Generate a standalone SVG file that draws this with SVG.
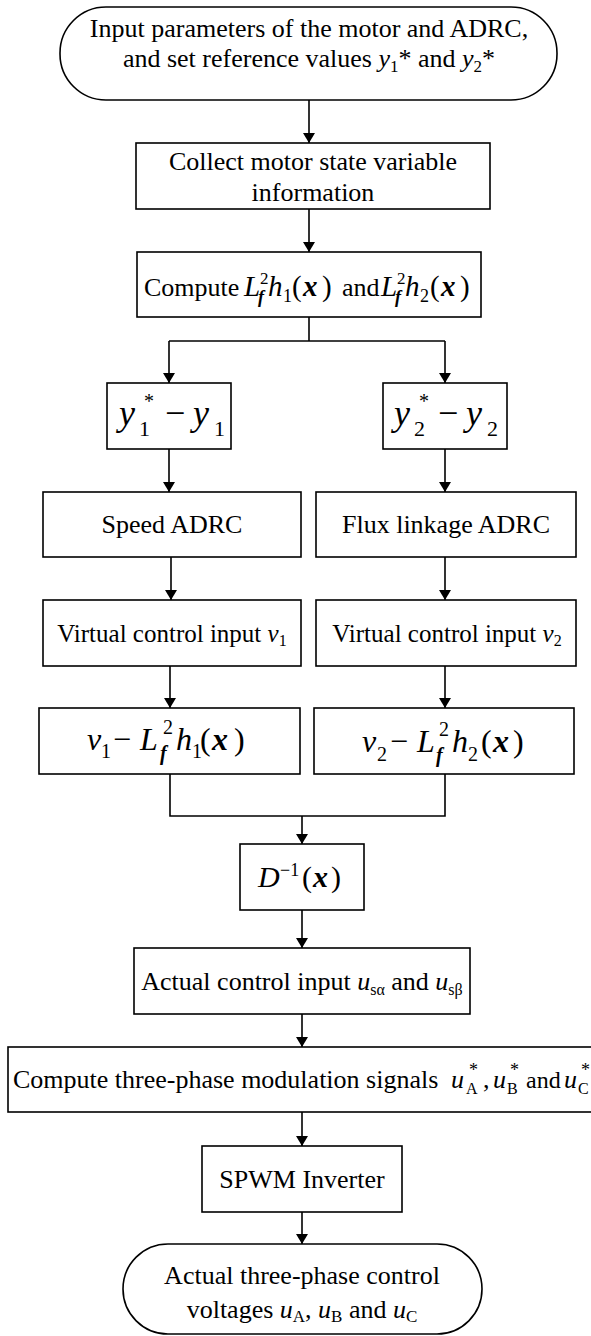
<svg xmlns="http://www.w3.org/2000/svg" width="591" height="1336" viewBox="0 0 591 1336">
<style>
.bx{fill:#fff;stroke:#000;stroke-width:1.6}
.t{font-family:"Liberation Serif","Times New Roman",serif;fill:#000}
.i{font-style:italic}
.b{font-weight:bold}
.c{stroke:#000;stroke-width:1.6;fill:none}
</style>
<defs>
<marker id="ah" viewBox="0 0 10 12" refX="10" refY="6" markerWidth="10" markerHeight="12" orient="auto" markerUnits="userSpaceOnUse">
<path d="M0,0 L10,6 L0,12 z" fill="#000"/>
</marker>
</defs>
<rect width="591" height="1336" fill="#fff"/>
<g id="connectors">
<line class="c" x1="309" y1="100" x2="309" y2="143" marker-end="url(#ah)"/>
<line class="c" x1="309" y1="209" x2="309" y2="252" marker-end="url(#ah)"/>
<polyline class="c" points="309,317 309,341"/>
<polyline class="c" points="169,341 445,341"/>
<line class="c" x1="169" y1="341" x2="169" y2="383" marker-end="url(#ah)"/>
<line class="c" x1="445" y1="341" x2="445" y2="383" marker-end="url(#ah)"/>
<line class="c" x1="169" y1="449" x2="169" y2="492" marker-end="url(#ah)"/>
<line class="c" x1="445" y1="449" x2="445" y2="492" marker-end="url(#ah)"/>
<line class="c" x1="171" y1="557" x2="171" y2="600" marker-end="url(#ah)"/>
<line class="c" x1="445" y1="557" x2="445" y2="600" marker-end="url(#ah)"/>
<line class="c" x1="170" y1="666" x2="170" y2="708" marker-end="url(#ah)"/>
<line class="c" x1="445" y1="666" x2="445" y2="708" marker-end="url(#ah)"/>
<polyline class="c" points="170,774 170,816 445,816 445,774"/>
<line class="c" x1="302" y1="816" x2="302" y2="844" marker-end="url(#ah)"/>
<line class="c" x1="302" y1="910" x2="302" y2="948" marker-end="url(#ah)"/>
<line class="c" x1="302" y1="1014" x2="302" y2="1047" marker-end="url(#ah)"/>
<line class="c" x1="302" y1="1112" x2="302" y2="1146" marker-end="url(#ah)"/>
<line class="c" x1="302" y1="1212" x2="302" y2="1244" marker-end="url(#ah)"/>
</g>
<g id="start">
<rect class="bx" x="60" y="7" width="497" height="93" rx="46" ry="46"/>
<text class="t" font-size="26" x="309" y="37" text-anchor="middle">Input parameters of the motor and ADRC,</text>
<text class="t" font-size="26" x="309" y="67" text-anchor="middle">and set reference values <tspan class="i">y</tspan><tspan font-size="17" dy="5">1</tspan><tspan dy="-5">* and </tspan><tspan class="i">y</tspan><tspan font-size="17" dy="5">2</tspan><tspan dy="-5">*</tspan></text>
</g>
<g id="collect">
<rect class="bx" x="136" y="143" width="354" height="66"/>
<text class="t" font-size="26" x="313" y="170" text-anchor="middle">Collect motor state variable</text>
<text class="t" font-size="26" x="313" y="201" text-anchor="middle">information</text>
</g>
<g id="computeL">
<rect class="bx" x="137" y="252" width="344" height="65"/>
<text class="t" font-size="26" y="296"><tspan x="144">Compute</tspan><tspan x="244" class="i" font-size="29">L</tspan><tspan x="260" y="284" font-size="17">2</tspan><tspan x="258" y="303" font-size="18" class="i b">f</tspan><tspan x="268" y="296" class="i" font-size="29">h</tspan><tspan x="283" y="302" font-size="18">1</tspan><tspan x="292" y="296" font-size="29">(</tspan><tspan x="303" class="i b" font-size="29">x</tspan><tspan x="322" font-size="29">)</tspan><tspan x="342">and</tspan><tspan x="381" class="i" font-size="29">L</tspan><tspan x="397" y="284" font-size="17">2</tspan><tspan x="395" y="303" font-size="18" class="i b">f</tspan><tspan x="405" y="296" class="i" font-size="29">h</tspan><tspan x="420" y="302" font-size="18">2</tspan><tspan x="430" y="296" font-size="29">(</tspan><tspan x="441" class="i b" font-size="29">x</tspan><tspan x="460" font-size="29">)</tspan></text>
</g>
<g id="err1">
<rect class="bx" x="107" y="383" width="124" height="66"/>
<text class="t" font-size="36" y="425"><tspan x="119" class="i">y</tspan><tspan x="144" y="408" font-size="20">*</tspan><tspan x="139" y="436" font-size="22">1</tspan><tspan x="165" y="425">−</tspan><tspan x="193" class="i">y</tspan><tspan x="214" y="436" font-size="22">1</tspan></text>
</g>
<g id="err2">
<rect class="bx" x="383" y="383" width="124" height="66"/>
<text class="t" font-size="36" y="425"><tspan x="394" class="i">y</tspan><tspan x="419" y="408" font-size="20">*</tspan><tspan x="414" y="436" font-size="22">2</tspan><tspan x="438" y="425">−</tspan><tspan x="466" class="i">y</tspan><tspan x="487" y="436" font-size="22">2</tspan></text>
</g>
<g id="speed">
<rect class="bx" x="43" y="492" width="258" height="65"/>
<text class="t" font-size="26" x="172" y="533" text-anchor="middle">Speed ADRC</text>
</g>
<g id="flux">
<rect class="bx" x="316" y="492" width="260" height="65"/>
<text class="t" font-size="26" x="446" y="533" text-anchor="middle">Flux linkage ADRC</text>
</g>
<g id="virt1">
<rect class="bx" x="43" y="600" width="258" height="66"/>
<text class="t" font-size="25" x="172" y="642" text-anchor="middle">Virtual control input <tspan class="i">v</tspan><tspan font-size="16" dy="4">1</tspan></text>
</g>
<g id="virt2">
<rect class="bx" x="316" y="600" width="260" height="66"/>
<text class="t" font-size="25" x="447" y="642" text-anchor="middle">Virtual control input <tspan class="i">v</tspan><tspan font-size="16" dy="4">2</tspan></text>
</g>
<g id="vl1">
<rect class="bx" x="39" y="708" width="261" height="66"/>
<text class="t" font-size="32" y="750"><tspan x="87" class="i">v</tspan><tspan x="101" y="758" font-size="20">1</tspan><tspan x="113" y="750">−</tspan><tspan x="140" class="i">L</tspan><tspan x="163" y="734" font-size="20">2</tspan><tspan x="160" y="760" font-size="20" class="i b">f</tspan><tspan x="176" y="750" class="i">h</tspan><tspan x="192" y="758" font-size="20">1</tspan><tspan x="200" y="750">(</tspan><tspan x="212" class="i b">x</tspan><tspan x="234">)</tspan></text>
</g>
<g id="vl2">
<rect class="bx" x="314" y="708" width="260" height="66"/>
<text class="t" font-size="32" y="752"><tspan x="362" class="i">v</tspan><tspan x="377" y="761" font-size="20">2</tspan><tspan x="390" y="752">−</tspan><tspan x="417" class="i">L</tspan><tspan x="439" y="736" font-size="20">2</tspan><tspan x="436" y="762" font-size="20" class="i b">f</tspan><tspan x="452" y="752" class="i">h</tspan><tspan x="468" y="761" font-size="20">2</tspan><tspan x="481" y="752">(</tspan><tspan x="493" class="i b">x</tspan><tspan x="513">)</tspan></text>
</g>
<g id="dinv">
<rect class="bx" x="240" y="844" width="124" height="66"/>
<text class="t" font-size="30" y="887"><tspan x="258" class="i">D</tspan><tspan x="280" y="876" font-size="18">−1</tspan><tspan x="302" y="887">(</tspan><tspan x="313" class="i b">x</tspan><tspan x="331">)</tspan></text>
</g>
<g id="actual">
<rect class="bx" x="134" y="948" width="336" height="66"/>
<text class="t" font-size="26" x="302" y="990" text-anchor="middle">Actual control input <tspan class="i">u</tspan><tspan font-size="16" dy="5">sα</tspan><tspan dy="-5"> and </tspan><tspan class="i">u</tspan><tspan font-size="16" dy="5">sβ</tspan></text>
</g>
<g id="threephase">
<rect class="bx" x="8" y="1047" width="600" height="65"/>
<text class="t" font-size="26" y="1088"><tspan x="13">Compute three-phase modulation signals</tspan><tspan x="451" class="i">u</tspan><tspan x="469" y="1076" font-size="18">*</tspan><tspan x="466" y="1094" font-size="16">A</tspan><tspan x="483" y="1088">,</tspan><tspan x="493" class="i">u</tspan><tspan x="510" y="1076" font-size="18">*</tspan><tspan x="507" y="1094" font-size="16">B</tspan><tspan x="526" y="1088" font-size="24">and</tspan><tspan x="564" class="i">u</tspan><tspan x="581" y="1076" font-size="18">*</tspan><tspan x="578" y="1094" font-size="16">C</tspan></text>
</g>
<g id="spwm">
<rect class="bx" x="202" y="1146" width="200" height="66"/>
<text class="t" font-size="26" x="302" y="1188" text-anchor="middle">SPWM Inverter</text>
</g>
<g id="end">
<rect class="bx" x="123" y="1244" width="359" height="90" rx="45" ry="45"/>
<text class="t" font-size="26" x="302" y="1284" text-anchor="middle">Actual three-phase control</text>
<text class="t" font-size="26" x="302" y="1318" text-anchor="middle">voltages <tspan class="i">u</tspan><tspan font-size="17" dy="4">A</tspan><tspan dy="-4">, </tspan><tspan class="i">u</tspan><tspan font-size="17" dy="4">B</tspan><tspan dy="-4"> and </tspan><tspan class="i">u</tspan><tspan font-size="17" dy="4">C</tspan></text>
</g>
</svg>
